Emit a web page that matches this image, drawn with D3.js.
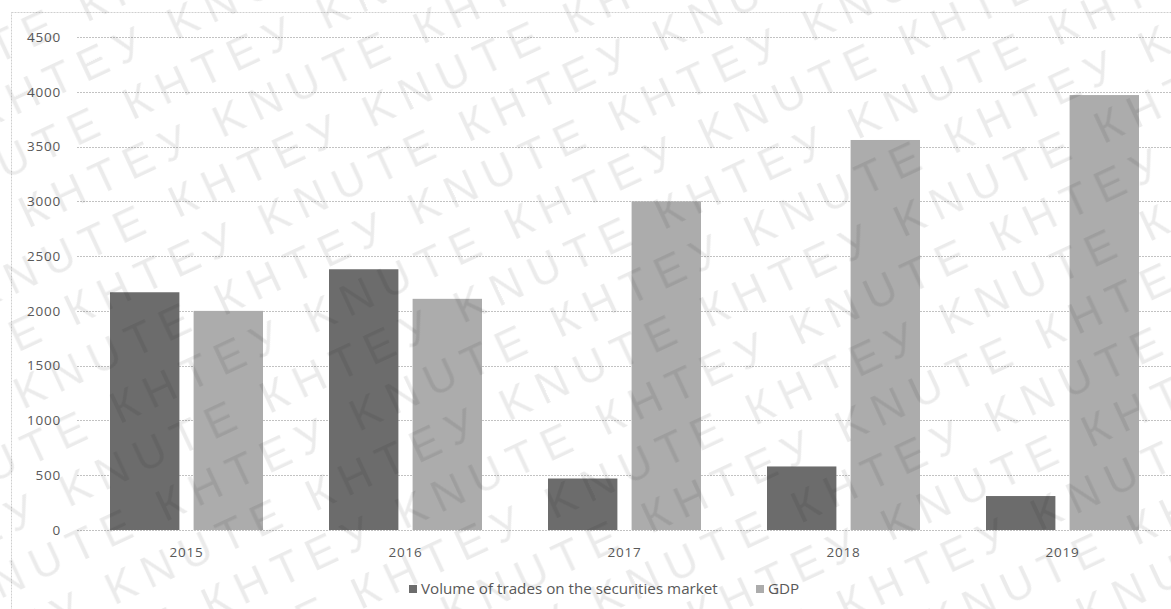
<!DOCTYPE html>
<html>
<head>
<meta charset="utf-8">
<script src="https://cdn.jsdelivr.net/npm/d3@7/dist/d3.min.js"></script>
<style>
  html, body { margin: 0; padding: 0; background: #fff; }
  svg { display: block; }
  .tick-label { font-family: "Open Sans", sans-serif; font-size: 13.5px; letter-spacing: 0.8px; fill: #595959; }
  .legend-text { font-family: "Open Sans", sans-serif; font-size: 15.2px; fill: #595959; }
  .wm { font-family: "Liberation Sans", Arial, sans-serif; font-size: 44px; letter-spacing: 10px; fill: #000; fill-opacity: 0.08; }
</style>
</head>
<body>
<svg id="chart" width="1171" height="609"></svg>
<script>
// Years on the category axis
const years = ["2015", "2016", "2017", "2018", "2019"];
// Volume of trades on the securities market
const tradeVolume = [2170, 2380, 470, 580, 310];
// Gross domestic product
const gdp = [2000, 2110, 3000, 3560, 3970];
// Value axis ticks
const yTicks = [0, 500, 1000, 1500, 2000, 2500, 3000, 3500, 4000, 4500];
// Series names and fills
const seriesNames = ["Volume of trades on the securities market", "GDP"];
const seriesColors = ["#6c6c6c", "#acacac"];
// Watermark words
const watermarkWords = ["КНТЕУ", "KNUTE"];

const W = 1171, H = 609;
const svg = d3.select("#chart");

const defs = svg.append("defs");
defs.append("filter").attr("id", "soft")
  .attr("x", "-10%").attr("y", "-10%").attr("width", "120%").attr("height", "120%")
  .append("feGaussianBlur").attr("stdDeviation", 0.7);
defs.append("clipPath").attr("id", "frame")
  .append("rect").attr("x", 0).attr("y", 0).attr("width", W).attr("height", H);

// Outer frame of the chart area
svg.append("rect")
  .attr("x", 11.5).attr("y", 12.5)
  .attr("width", W + 20).attr("height", H + 20)
  .attr("fill", "none").attr("stroke", "#cfcfcf")
  .attr("stroke-dasharray", "2,1");

const plot = { left: 77, right: 1172, top: 37, bottom: 530 };

const x0 = d3.scaleBand().domain(years).range([plot.left, plot.right]).paddingInner(0).paddingOuter(0);
const x1 = d3.scaleBand().domain(seriesNames).range([33, 186]).paddingInner(0.17).paddingOuter(0);
const y = d3.scaleLinear().domain([0, 4500]).range([plot.bottom, plot.top]);

// Horizontal gridlines
svg.append("g").selectAll("line").data(yTicks).join("line")
  .attr("x1", plot.left).attr("x2", W)
  .attr("y1", d => Math.round(y(d)) + 0.5).attr("y2", d => Math.round(y(d)) + 0.5)
  .attr("stroke", "#c2c2c2").attr("stroke-width", 1).attr("stroke-dasharray", "2,1");

// Value axis labels
const yAxis = d3.axisLeft(y).tickValues(yTicks).tickFormat(d3.format("d")).tickSize(0).tickPadding(0);
const yg = svg.append("g").attr("transform", "translate(61,0)").call(yAxis);
yg.select(".domain").remove();
yg.selectAll("text").attr("class", "tick-label").attr("fill", null).attr("font-size", null).attr("font-family", null);

// Category labels
const xAxis = d3.axisBottom(x0).tickSize(0).tickPadding(0);
const xg = svg.append("g").attr("transform", "translate(0,547)").call(xAxis);
xg.select(".domain").remove();
xg.selectAll("text").attr("class", "tick-label").attr("fill", null).attr("font-size", null).attr("font-family", null);

// Bars
const rows = years.map((yr, i) => ({ year: yr, values: [tradeVolume[i], gdp[i]] }));
const groups = svg.append("g").attr("filter", "url(#soft)")
  .selectAll("g").data(rows).join("g")
  .attr("transform", d => `translate(${x0(d.year)},0)`);
groups.selectAll("rect")
  .data(d => d.values.map((v, k) => ({ name: seriesNames[k], value: v, k })))
  .join("rect")
  .attr("x", d => x1(d.name))
  .attr("width", x1.bandwidth())
  .attr("y", d => y(d.value))
  .attr("height", d => y(0) - y(d.value))
  .attr("fill", d => seriesColors[d.k]);

// Legend
const legend = svg.append("g").attr("transform", "translate(0,589)");
const legendX = [409, 756];
seriesNames.forEach((name, k) => {
  legend.append("rect").attr("x", legendX[k]).attr("y", -4).attr("width", 8).attr("height", 8)
    .attr("fill", seriesColors[k]);
  legend.append("text").attr("class", "legend-text")
    .attr("x", legendX[k] + 12).attr("y", 5).text(name);
});

// Diagonal watermark across the whole chart
const wm = svg.append("g").attr("pointer-events", "none").attr("clip-path", "url(#frame)")
  .append("g").attr("transform", "rotate(-25 585 300)");
const lineText = d3.range(14).map(j => watermarkWords[j % 2]).join("  ");
for (let r = -11; r <= 17; r++) {
  wm.append("text").attr("class", "wm")
    .attr("x", -760 + (r % 2 === 0 ? 0 : 140))
    .attr("y", r * 54)
    .text(lineText);
}
</script>
</body>
</html>
